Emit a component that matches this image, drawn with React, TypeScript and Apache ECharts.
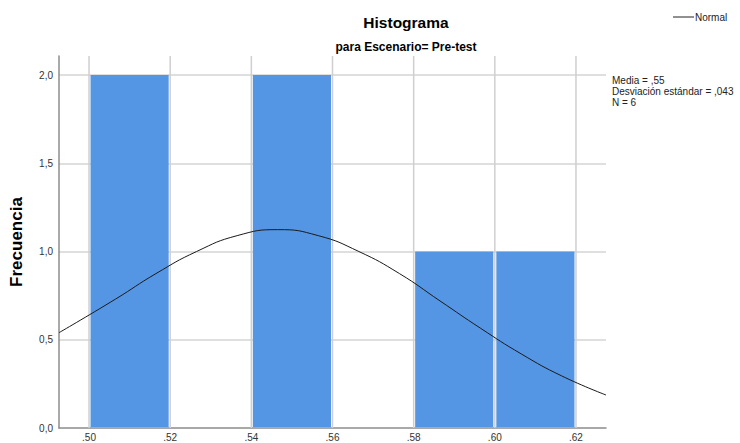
import React, { useEffect, useRef } from "react";
import * as echarts from "echarts";

// ---- data ----
const BIN_START = [0.5, 0.54, 0.58, 0.6];
const BIN_END = [0.52, 0.56, 0.6, 0.62];
const FREQ = [2, 2, 1, 1];

const X_TICKS = [0.5, 0.52, 0.54, 0.56, 0.58, 0.6, 0.62];
const X_TICK_LABELS = [".50", ".52", ".54", ".56", ".58", ".60", ".62"];
const Y_TICK_LABELS: Record<string, string> = { "0": "0,0", "0.5": "0,5", "1": "1,0", "1.5": "1,5", "2": "2,0" };

// normal curve points (peak near .5465)
const CURVE_X = [0.4926, 0.5065, 0.5165, 0.5265, 0.5365, 0.5465, 0.5565, 0.5665, 0.5765, 0.5865, 0.5965, 0.6065, 0.6165, 0.6274];
const CURVE_Y = [0.54, 0.73, 0.875, 1.0, 1.09, 1.124, 1.09, 1.0, 0.875, 0.72, 0.565, 0.42, 0.295, 0.187];

const STATS_LINES = ["Media = ,55", "Desviación estándar = ,043", "N = 6"];
const TITLE = "Histograma";
const SUBTITLE = "para Escenario= Pre-test";
const Y_NAME = "Frecuencia";
const LEGEND_NAME = "Normal";

const X_MIN = 0.4926;
const X_MAX = 0.6274;
const Y_MAX = 2.108;

const FONT = "Liberation Sans, Arial, sans-serif";

export default function App() {
  const ref = useRef<HTMLDivElement>(null);
  useEffect(() => {
    if (!ref.current) return;
    const chart = echarts.init(ref.current, undefined, { renderer: "svg" });
    const bars = BIN_START.map((s, i) => [s, BIN_END[i], FREQ[i]]);
    const ticks = X_TICKS.map((v, i) => [v, 0, i]);
    const curve = CURVE_X.map((x, i) => [x, CURVE_Y[i]]);

    chart.setOption({
      animation: false,
      backgroundColor: "#fff",
      textStyle: { fontFamily: FONT },
      title: [
        {
          text: TITLE,
          left: 401,
          top: 9,
          textAlign: "center",
          textStyle: { fontSize: 15.5, fontWeight: "bold", color: "#000", fontFamily: FONT },
        },
        {
          text: SUBTITLE,
          left: 401,
          top: 36,
          textAlign: "center",
          textStyle: { fontSize: 12, fontWeight: "bold", color: "#000", fontFamily: FONT },
        },
      ],
      grid: { left: 58, right: 134, top: 56, bottom: 15, containLabel: false },
      xAxis: {
        type: "value",
        min: X_MIN,
        max: X_MAX,
        axisLine: { show: true, lineStyle: { color: "#8c8c8c", width: 1.5 } },
        axisTick: { show: false },
        axisLabel: { show: false },
        splitLine: { show: false },
      },
      yAxis: {
        type: "value",
        min: 0,
        max: Y_MAX,
        interval: 0.5,
        name: Y_NAME,
        nameLocation: "middle",
        nameGap: 34,
        nameRotate: 90,
        nameTextStyle: { fontSize: 17, fontWeight: "bold", color: "#000", fontFamily: FONT },
        axisLine: { show: true, lineStyle: { color: "#8c8c8c", width: 1.5 } },
        axisTick: { show: false },
        axisLabel: {
          margin: 6,
          fontSize: 10,
          color: "#333",
          fontFamily: FONT,
          showMaxLabel: false,
          formatter: (v: number) => Y_TICK_LABELS[String(Math.round(v * 10) / 10)] ?? "",
        },
        splitLine: { show: true, showMaxLine: false, showMinLine: false, lineStyle: { color: "#d4d4d4", width: 1.5 } },
      },
      graphic: [
        {
          type: "line",
          shape: { x1: 673, y1: 17, x2: 694, y2: 17 },
          style: { stroke: "#222", lineWidth: 1 },
        },
        {
          type: "text",
          x: 695,
          y: 17,
          style: { text: LEGEND_NAME, font: `10px ${FONT}`, fill: "#222", verticalAlign: "middle" },
        },
        {
          type: "text",
          x: 612,
          y: 75,
          style: {
            text: STATS_LINES.join("\n"),
            font: `10px ${FONT}`,
            lineHeight: 11,
            fill: "#222",
            verticalAlign: "top",
          },
        },
      ],
      series: [
        {
          type: "custom",
          name: "grid",
          clip: false,
          z: 1,
          silent: true,
          encode: { x: 0, y: 1 },
          data: ticks,
          renderItem: (params: any, api: any) => {
            const v = api.value(0);
            const idx = api.value(2);
            const b = api.coord([v, 0]);
            const t = api.coord([v, Y_MAX]);
            return {
              type: "group",
              children: [
                {
                  type: "line",
                  shape: { x1: b[0], y1: b[1], x2: t[0], y2: t[1] },
                  style: { stroke: "#cfcfcf", lineWidth: 1.5 },
                },
                {
                  type: "text",
                  x: b[0],
                  y: b[1] + 4,
                  style: {
                    text: X_TICK_LABELS[idx],
                    font: `10px ${FONT}`,
                    fill: "#333",
                    align: "center",
                    verticalAlign: "top",
                  },
                },
              ],
            };
          },
        },
        {
          type: "custom",
          name: "bars",
          z: 2,
          silent: true,
          encode: { x: [0, 1], y: 2 },
          data: bars,
          renderItem: (params: any, api: any) => {
            const p0 = api.coord([api.value(0), api.value(2)]);
            const p1 = api.coord([api.value(1), 0]);
            return {
              type: "rect",
              shape: { x: p0[0] + 1.5, y: p0[1], width: p1[0] - p0[0] - 3, height: p1[1] - p0[1] - 1 },
              style: { fill: "#5596e4" },
            };
          },
        },
        {
          type: "line",
          name: LEGEND_NAME,
          z: 3,
          data: curve,
          smooth: 0.5,
          symbol: "none",
          lineStyle: { color: "#1a1a1a", width: 1 },
        },
      ],
    });
    return () => chart.dispose();
  }, []);

  return (
    <div
      ref={ref}
      style={{ position: "fixed", left: 0, top: 0, width: 740, height: 443, background: "#fff" }}
    />
  );
}
